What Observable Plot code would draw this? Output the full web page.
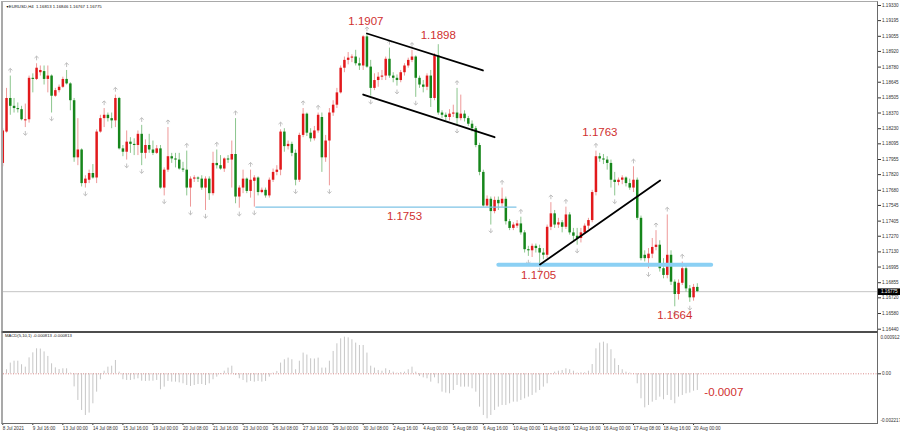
<!DOCTYPE html>
<html>
<head>
<meta charset="utf-8">
<script src="https://cdn.jsdelivr.net/npm/d3@7"></script>
<script src="https://cdn.jsdelivr.net/npm/@observablehq/plot@0.6"></script>
<style>
  html, body { margin: 0; padding: 0; background: #fff; }
  #chart { position: relative; width: 900px; height: 434px; overflow: hidden; background: #fff; }
  #chart > svg { position: absolute; left: 0; }
  .pane { position: absolute; box-sizing: border-box; pointer-events: none; }
</style>
</head>
<body>
<div id="chart"></div>
<script>
// ---------------- DATA ----------------
const symbolName = "EURUSD,H4";
const macdName = "MACD(5,10,1) -0.000813 -0.000813";

const open = [
1.1792,1.1820,1.1850,1.1843,1.1841,1.1840,1.1830,1.1831,1.1868,1.1867,
1.1873,1.1874,1.1867,1.1870,1.1852,1.1857,1.1860,1.1867,1.1863,1.1848,
1.1797,1.1804,1.1774,1.1777,1.1783,1.1779,1.1820,1.1832,1.1835,1.1832,
1.1830,1.1850,1.1805,1.1802,1.1811,1.1809,1.1808,1.1818,1.1801,1.1808,
1.1804,1.1801,1.1805,1.1770,1.1786,1.1798,1.1796,1.1795,1.1787,1.1786,
1.1770,1.1778,1.1779,1.1778,1.1770,1.1778,1.1765,1.1792,1.1790,1.1787,
1.1796,1.1795,1.1800,1.1762,1.1770,1.1778,1.1767,1.1776,1.1779,1.1766,
1.1768,1.1763,1.1777,1.1784,1.1786,1.1820,1.1807,1.1809,1.1801,1.1777,
1.1817,1.1836,1.1819,1.1814,1.1821,1.1833,1.1797,1.1812,1.1837,1.1844,
1.1855,1.1877,1.1884,1.1886,1.1887,1.1881,1.1879,1.1905,1.1878,1.1859,
1.1866,1.1869,1.1870,1.1885,1.1870,1.1868,1.1866,1.1873,1.1879,1.1884,
1.1887,1.1868,1.1862,1.1860,1.1870,1.1850,1.1888,1.1837,1.1835,1.1833,
1.1836,1.1837,1.1832,1.1836,1.1832,1.1827,1.1823,1.1808,1.1784,1.1754,
1.1760,1.1749,1.1759,1.1756,1.1760,1.1740,1.1734,1.1736,1.1738,1.1730,
1.1715,1.1714,1.1718,1.1716,1.1712,1.1710,1.1735,1.1747,1.1737,1.1739,
1.1735,1.1746,1.1730,1.1727,1.1725,1.1730,1.1736,1.1741,1.1766,1.1798,
1.1796,1.1795,1.1792,1.1777,1.1775,1.1777,1.1779,1.1774,1.1770,1.1777,
1.1743,1.1710,1.1707,1.1711,1.1717,1.1719,1.1698,1.1692,1.1710,1.1686,
1.1675,1.1685,1.1698,1.1680,1.1672,1.16813];

const high = [
1.1823,1.1859,1.1870,1.1850,1.1846,1.1843,1.1845,1.1870,1.1872,1.1881,
1.1879,1.1879,1.1879,1.1871,1.1859,1.1862,1.1869,1.1875,1.1864,1.1850,
1.1832,1.1805,1.1781,1.1786,1.1791,1.1822,1.1835,1.1841,1.1837,1.1837,
1.1853,1.1851,1.1808,1.1821,1.1815,1.1814,1.1821,1.1826,1.1813,1.1818,
1.1812,1.1808,1.1808,1.1788,1.1824,1.1801,1.1801,1.1801,1.1793,1.1803,
1.1780,1.1781,1.1780,1.1781,1.1780,1.1780,1.1802,1.1804,1.1799,1.1797,
1.1799,1.1812,1.1832,1.1772,1.1786,1.1779,1.1786,1.1781,1.1780,1.1770,
1.1770,1.1779,1.1787,1.1790,1.1822,1.1823,1.1812,1.1811,1.1804,1.1819,
1.1841,1.1837,1.1823,1.1825,1.1837,1.1837,1.1817,1.1841,1.1848,1.1859,
1.1879,1.1887,1.1891,1.1889,1.1893,1.1886,1.1906,1.1907,1.1884,1.1872,
1.1873,1.1875,1.1887,1.1895,1.1873,1.1871,1.1875,1.1881,1.1886,1.1893,
1.1888,1.1870,1.1866,1.1872,1.1875,1.1890,1.1898,1.1839,1.1837,1.1840,
1.1844,1.1859,1.1853,1.1839,1.1834,1.1830,1.1825,1.1810,1.1786,1.1763,
1.1762,1.1762,1.1762,1.1770,1.1762,1.1742,1.1739,1.1741,1.1744,1.1732,
1.1718,1.1720,1.1720,1.1719,1.1716,1.1737,1.1757,1.1750,1.1743,1.1741,
1.1753,1.1748,1.1734,1.1734,1.1734,1.1738,1.1743,1.1768,1.1803,1.1801,
1.1800,1.1798,1.1795,1.1784,1.1779,1.1781,1.1780,1.1778,1.1789,1.1779,
1.1745,1.1714,1.1716,1.1725,1.1732,1.1723,1.1707,1.1746,1.1714,1.1688,
1.1688,1.1704,1.1701,1.1683,1.1684,1.16846];

const low = [
1.1789,1.1819,1.1835,1.1837,1.1837,1.1830,1.1824,1.1828,1.1855,1.1866,
1.1870,1.1862,1.1855,1.1837,1.1851,1.1855,1.1859,1.1862,1.1839,1.1793,
1.1790,1.1771,1.1770,1.1774,1.1778,1.1774,1.1819,1.1824,1.1829,1.1823,
1.1824,1.1804,1.1798,1.1795,1.1801,1.1799,1.1799,1.1790,1.1796,1.1801,
1.1799,1.1800,1.1769,1.1763,1.1784,1.1792,1.1788,1.1786,1.1784,1.1763,
1.1753,1.1775,1.1775,1.1768,1.1750,1.1759,1.1763,1.1787,1.1786,1.1784,
1.1792,1.1770,1.1756,1.1752,1.1765,1.1765,1.1761,1.1753,1.1763,1.1765,
1.1761,1.1761,1.1775,1.1781,1.1781,1.1802,1.1804,1.1798,1.1772,1.1775,
1.1815,1.1816,1.1811,1.1812,1.1819,1.1784,1.1793,1.1772,1.1834,1.1841,
1.1854,1.1873,1.1880,1.1882,1.1879,1.1875,1.1875,1.1877,1.1852,1.1857,
1.1860,1.1866,1.1866,1.1868,1.1864,1.1861,1.1864,1.1870,1.1877,1.1882,
1.1851,1.1859,1.1855,1.1857,1.1842,1.1848,1.1835,1.1832,1.1830,1.1830,
1.1833,1.1826,1.1830,1.1829,1.1825,1.1820,1.1806,1.1781,1.1753,1.1753,
1.1737,1.1747,1.1750,1.1753,1.1737,1.1732,1.1732,1.1734,1.1728,1.1712,
1.1709,1.1708,1.1712,1.1702,1.1706,1.1707,1.1732,1.1734,1.1734,1.1730,
1.1733,1.1728,1.1723,1.1719,1.1721,1.1729,1.1733,1.1739,1.1763,1.1793,
1.1791,1.1786,1.1770,1.1763,1.1772,1.1773,1.1771,1.1768,1.1766,1.1741,
1.1705,1.1704,1.1698,1.1707,1.1714,1.1695,1.1689,1.1689,1.1683,1.1664,
1.1670,1.1683,1.1677,1.1668,1.1669,1.16767];

const close = [
1.1821,1.1850,1.1843,1.1841,1.1840,1.1831,1.1831,1.1868,1.1867,1.1877,
1.1875,1.1867,1.1870,1.1852,1.1857,1.1860,1.1867,1.1863,1.1848,1.1797,
1.1804,1.1774,1.1778,1.1783,1.1779,1.1820,1.1832,1.1835,1.1832,1.1830,
1.1850,1.1805,1.1802,1.1811,1.1809,1.1808,1.1818,1.1801,1.1808,1.1804,
1.1801,1.1805,1.1770,1.1786,1.1798,1.1796,1.1795,1.1787,1.1786,1.1770,
1.1778,1.1779,1.1778,1.1770,1.1778,1.1765,1.1792,1.1790,1.1787,1.1796,
1.1795,1.1800,1.1762,1.1770,1.1778,1.1767,1.1777,1.1779,1.1766,1.1768,
1.1763,1.1777,1.1784,1.1786,1.1820,1.1807,1.1809,1.1801,1.1777,1.1817,
1.1836,1.1819,1.1814,1.1821,1.1835,1.1797,1.1812,1.1837,1.1844,1.1855,
1.1877,1.1884,1.1886,1.1887,1.1881,1.1879,1.1905,1.1878,1.1859,1.1866,
1.1869,1.1870,1.1885,1.1870,1.1868,1.1866,1.1873,1.1879,1.1884,1.1887,
1.1868,1.1862,1.1860,1.1870,1.1850,1.1888,1.1837,1.1835,1.1833,1.1836,
1.1837,1.1832,1.1836,1.1832,1.1827,1.1823,1.1808,1.1784,1.1754,1.1760,
1.1749,1.1759,1.1756,1.1760,1.1740,1.1734,1.1737,1.1738,1.1730,1.1715,
1.1714,1.1718,1.1716,1.1712,1.1710,1.1735,1.1747,1.1737,1.1739,1.1735,
1.1746,1.1730,1.1727,1.1725,1.1730,1.1736,1.1741,1.1766,1.1798,1.1796,
1.1795,1.1792,1.1777,1.1775,1.1777,1.1779,1.1774,1.1770,1.1777,1.1743,
1.1707,1.1707,1.1711,1.1717,1.1719,1.1698,1.1692,1.1710,1.1686,1.1675,
1.1685,1.1698,1.1680,1.1672,1.16813,1.16775];

const macd = [
0.00002,0.00017,0.00045,0.00053,0.00053,0.00038,0.00028,0.00067,0.00088,0.00105,
0.00104,0.00092,0.00073,0.00042,0.00025,0.00018,0.00021,0.00021,0.00003,-0.00055,
-0.00112,-0.00154,-0.00175,-0.00165,-0.00126,-0.00077,-0.00025,0.00011,0.00028,0.00032,
0.00056,0.00007,-0.00025,-0.00028,-0.00028,-0.00025,-0.00021,-0.00031,-0.00032,-0.00031,
-0.00031,-0.00028,-0.00067,-0.00056,-0.00032,-0.00035,-0.00035,-0.00038,-0.00042,-0.00049,
-0.00053,-0.00049,-0.00045,-0.00045,-0.00049,-0.00042,-0.00025,-0.00014,-0.00003,0.00011,
0.00024,0.00032,-0.00007,-0.00021,-0.00028,-0.00038,-0.00032,-0.00035,-0.00032,-0.00035,
-0.00032,-0.00014,0.00003,0.00010,0.00045,0.00059,0.00066,0.00059,0.00017,0.00053,
0.00087,0.00079,0.00063,0.00062,0.00066,0.00024,0.00024,0.00053,0.00094,0.00126,
0.00147,0.00154,0.00151,0.00143,0.00129,0.00119,0.00119,0.00087,0.00032,0.00024,
0.00014,0.00011,0.00021,0.00014,0.00007,0.00003,0.00005,0.00007,0.00017,0.00028,
0.00007,-0.00011,-0.00017,-0.00021,-0.00035,-0.00017,-0.00042,-0.00077,-0.00081,-0.00084,
-0.00070,-0.00049,-0.00056,-0.00056,-0.00056,-0.00063,-0.00077,-0.00140,-0.00175,-0.00189,
-0.00175,-0.00154,-0.00140,-0.00133,-0.00133,-0.00126,-0.00119,-0.00119,-0.00112,-0.00105,
-0.00098,-0.00091,-0.00081,-0.00070,-0.00056,-0.00042,-0.00003,0.00007,0.00011,0.00014,
0.00021,0.00017,0.00011,0.00003,0.00004,0.00004,0.00011,0.00039,0.00105,0.00129,
0.00133,0.00126,0.00101,0.00063,0.00035,0.00017,0.00007,0.00003,0.00001,-0.00042,
-0.00105,-0.00143,-0.00133,-0.00119,-0.00112,-0.00098,-0.00109,-0.00091,-0.00112,-0.00126,
-0.00098,-0.00091,-0.00084,-0.00081,-0.00073,-0.00070];

// bars carrying a fractal arrow
const fractalUpBars = [2,9,17,27,30,37,44,49,57,62,66,74,80,84,97,103,109,121,133,138,146,150,158,168,174,177,181];
const fractalDownBars = [6,13,22,33,37,43,50,54,63,67,78,87,98,105,110,121,130,140,143,153,163,172,179,183];

const priceTicks = [1.19330,1.19195,1.19055,1.18920,1.18780,1.18645,1.18505,1.18370,1.18230,1.18095,1.17955,
  1.17820,1.17680,1.17545,1.17405,1.17270,1.17130,1.16995,1.16855,1.16720,1.16580,1.16440];
const macdTopLabel = "0.000912";
const macdBottomLabel = "-0.002217";

const timeLabels = ["8 Jul 2021","9 Jul 16:00","13 Jul 00:00","14 Jul 08:00","15 Jul 16:00","19 Jul 00:00",
  "20 Jul 08:00","21 Jul 16:00","23 Jul 00:00","26 Jul 08:00","27 Jul 16:00","29 Jul 00:00","30 Jul 08:00",
  "2 Aug 16:00","4 Aug 00:00","5 Aug 08:00","6 Aug 16:00","10 Aug 00:00","11 Aug 08:00","12 Aug 16:00",
  "16 Aug 00:00","17 Aug 08:00","18 Aug 16:00","20 Aug 00:00"];

// drawn objects (bar index, price)
const channelTop = [{bar: 97.0, price: 1.19080}, {bar: 127.9, price: 1.18750}];
const channelBottom = [{bar: 96.0, price: 1.18535}, {bar: 131.0, price: 1.18154}];
const trendLine = [{bar: 143.1, price: 1.17017}, {bar: 175.1, price: 1.17768}];
const level1753 = [{bar: 67.4, price: 1.1753}, {bar: 136.7, price: 1.1753}];
const level1705 = [{bar: 132.0, price: 1.17016}, {bar: 188.7, price: 1.17016}];

const priceNotes = [
  {text: "1.1907", bar: 97, price: 1.1907, dx: -1, dy: -13},
  {text: "1.1898", bar: 116, price: 1.1898, dx: 0, dy: -9},
  {text: "1.1753", bar: 107, price: 1.1753, dx: 0, dy: 9.5},
  {text: "1.1763", bar: 158, price: 1.1803, dx: 4, dy: -19},
  {text: "1.1705", bar: 143, price: 1.1702, dx: -1, dy: 11},
  {text: "1.1664", bar: 179, price: 1.1664, dx: 0, dy: 8.5}
];
const macdNote = {text: "-0.0007", bar: 185, value: -0.0007};

// ---------------- BUILD ----------------
const N = close.length;
const months = ["Jan","Feb","Mar","Apr","May","Jun","Jul","Aug","Sep","Oct","Nov","Dec"];
const times = [];
for (let t = Date.UTC(2021, 6, 8, 8); times.length < N; t += 4 * 3600e3) {
  const d = new Date(t), wd = d.getUTCDay();
  if (wd !== 0 && wd !== 6) times.push(d);
}
const fmtTime = d => `${d.getUTCDate()} ${months[d.getUTCMonth()]} ${String(d.getUTCHours()).padStart(2, "0")}:00`;
const fmtDay = d => `${d.getUTCDate()} ${months[d.getUTCMonth()]} ${d.getUTCFullYear()}`;
const timeTicks = timeLabels.map(s => /\d{4}$/.test(s) ? times.findIndex(d => fmtDay(d) === s) : times.findIndex(d => fmtTime(d) === s));
const tickLabelByBar = new Map(timeTicks.map((b, k) => [b, timeLabels[k]]));

const candles = d3.range(N).map(i => ({i, o: open[i], h: high[i], l: low[i], c: close[i], up: close[i] > open[i]}));
const upC = candles.filter(d => d.up), dnC = candles.filter(d => !d.up);

const upBody = "#e2191c", dnBody = "#16861b", upWick = "#ee9999", dnWick = "#8cc68e";
const noteColor = "#d0302f";
const FONT = "Liberation Sans, Arial, sans-serif";

const arrowUp = {draw(ctx, size) { const r = Math.sqrt(size / Math.PI);
  ctx.moveTo(-r, -0.1 * r); ctx.lineTo(0, -r); ctx.lineTo(r, -0.1 * r); ctx.moveTo(0, -r); ctx.lineTo(0, r); }};
const arrowDown = {draw(ctx, size) { const r = Math.sqrt(size / Math.PI);
  ctx.moveTo(-r, 0.1 * r); ctx.lineTo(0, r); ctx.lineTo(r, 0.1 * r); ctx.moveTo(0, r); ctx.lineTo(0, -r); }};
const priceBox = {draw(ctx) { ctx.rect(0, -3.3, 23, 6.6); }};

const last = N - 1;
const xScale = {domain: [0.19, 233.0], axis: null, label: null};
const baseStyle = {fontFamily: FONT, fontSize: "4.6px", color: "#333", background: "transparent", overflow: "visible"};

const main = Plot.plot({
  width: 900, height: 331,
  marginLeft: 3, marginRight: 23, marginTop: 5, marginBottom: 2.3,
  x: xScale,
  y: {domain: [1.16440, 1.19330], axis: null, label: null},
  style: baseStyle,
  marks: [
    Plot.ruleY([close[last]], {stroke: "#c4c4c4", strokeWidth: 1}),
    Plot.ruleX(upC, {x: "i", y1: "l", y2: "h", stroke: upWick, strokeWidth: 1}),
    Plot.ruleX(dnC, {x: "i", y1: "l", y2: "h", stroke: dnWick, strokeWidth: 1}),
    Plot.ruleX(upC, {x: "i", y1: "o", y2: "c", stroke: upBody, strokeWidth: 2.5}),
    Plot.ruleX(dnC, {x: "i", y1: "o", y2: "c", stroke: dnBody, strokeWidth: 2.5}),
    Plot.dot(fractalUpBars, {x: d => d, y: d => high[d], dy: -5.5, r: 2.1, symbol: arrowUp, stroke: "#b0b0b0", strokeWidth: 0.8, fill: "none"}),
    Plot.dot(fractalDownBars, {x: d => d, y: d => low[d], dy: 5.5, r: 2.1, symbol: arrowDown, stroke: "#b0b0b0", strokeWidth: 0.8, fill: "none"}),
    Plot.line(level1753, {x: "bar", y: "price", stroke: "#7fc3e6", strokeWidth: 1.4}),
    Plot.line(level1705, {x: "bar", y: "price", stroke: "#8bd0f4", strokeWidth: 4}),
    Plot.line(channelTop, {x: "bar", y: "price", stroke: "#000", strokeWidth: 1.8}),
    Plot.line(channelBottom, {x: "bar", y: "price", stroke: "#000", strokeWidth: 1.8}),
    Plot.line(trendLine, {x: "bar", y: "price", stroke: "#000", strokeWidth: 1.8}),
    Plot.text(priceNotes, {x: "bar", y: "price", text: "text", fill: noteColor, fontSize: 11.5, fontFamily: FONT}),
    Plot.axisY({anchor: "right", ticks: priceTicks, tickFormat: d => d.toFixed(5), tickSize: 3, tickPadding: 1.5, fontSize: 4.6, label: null}),
    Plot.dot([close[last]], {y: d => d, frameAnchor: "right", symbol: priceBox, r: 3, fill: "#000", stroke: "none"}),
    Plot.text([close[last]], {y: d => d, frameAnchor: "right", dx: 3.5, textAnchor: "start", text: d => d.toFixed(5), fill: "#fff", fontSize: 4.6}),
    Plot.text([`${symbolName}  ${open[last].toFixed(5)} ${high[last].toFixed(5)} ${low[last].toFixed(5)} ${close[last].toFixed(5)}`],
      {frameAnchor: "top-left", dx: 5.3, dy: 1, textAnchor: "start", lineAnchor: "middle", fill: "#111", fontSize: 4.3}),
    Plot.text(["▼"], {frameAnchor: "top-left", dx: 2.3, dy: 1, textAnchor: "start", lineAnchor: "middle", fill: "#111", fontSize: 3.5})
  ]
});

// per-note offsets (text placement next to the annotated price)
d3.select(main).selectAll("text").filter(function() { return priceNotes.some(n => n.text === this.textContent); })
  .each(function() { const n = priceNotes.find(n => n.text === this.textContent);
    const t = d3.select(this); const tr = t.attr("transform");
    t.attr("transform", (tr || "") + ` translate(${n.dx},${n.dy})`); });

const macdPlot = Plot.plot({
  width: 900, height: 103,
  marginLeft: 3, marginRight: 23, marginTop: 1, marginBottom: 11,
  x: xScale,
  y: {domain: [-0.002087, 0.001735], axis: null, label: null},
  style: baseStyle,
  marks: [
    Plot.ruleX(d3.range(N), {x: d => d, y1: 0, y2: d => macd[d], stroke: "#c6c6c6", strokeWidth: 1}),
    Plot.ruleY([0], {stroke: "#cf6f6f", strokeWidth: 0.8, strokeDasharray: "1,1.5"}),
    Plot.axisY({anchor: "right", ticks: [0], tickFormat: () => "0.00", tickSize: 3, tickPadding: 1.5, fontSize: 4.6, label: null}),
    Plot.text([macdTopLabel], {frameAnchor: "top-right", dx: 3, dy: 5, textAnchor: "start", lineAnchor: "middle", fill: "#333", fontSize: 4.6}),
    Plot.text([macdBottomLabel], {frameAnchor: "bottom-right", dx: 3, dy: -3, textAnchor: "start", lineAnchor: "middle", fill: "#333", fontSize: 4.6}),
    Plot.text([macdName], {frameAnchor: "top-left", dx: 1.5, dy: 3, textAnchor: "start", lineAnchor: "middle", fill: "#222", fontSize: 4.2}),
    Plot.text([macdNote], {x: "bar", y: "value", text: "text", dx: 7, dy: 1.5, textAnchor: "start", fill: noteColor, fontSize: 11.5, fontFamily: FONT}),
    Plot.axisX({anchor: "bottom", ticks: timeTicks, tickFormat: d => tickLabelByBar.get(d), tickSize: 2, tickPadding: 1, textAnchor: "start", fontSize: 4.6, label: null})
  ]
});

const root = document.getElementById("chart");
main.style.top = "0px";
macdPlot.style.top = "331px";
root.appendChild(main);
root.appendChild(macdPlot);
const pane1 = document.createElement("div");
pane1.className = "pane";
Object.assign(pane1.style, {left: "1px", top: "1px", width: "877px", height: "331px",
  borderLeft: "2px solid #a9a9a9", borderTop: "1px solid #a9a9a9", borderRight: "1px solid #6a6a6a", borderBottom: "1px solid #4d4d4d"});
const pane2 = document.createElement("div");
pane2.className = "pane";
Object.assign(pane2.style, {left: "1px", top: "332px", width: "877px", height: "92px",
  borderLeft: "2px solid #a9a9a9", borderTop: "1px solid #4d4d4d", borderRight: "1px solid #6a6a6a", borderBottom: "1px solid #6a6a6a"});
root.appendChild(pane1);
root.appendChild(pane2);
</script>
</body>
</html>
